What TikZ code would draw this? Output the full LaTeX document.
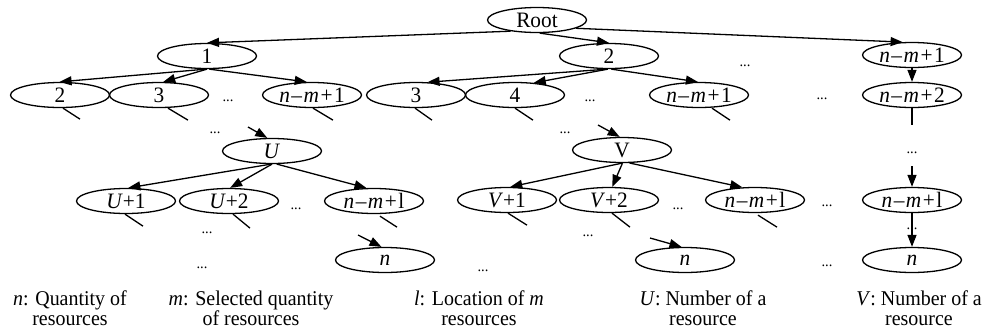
\documentclass[tikz,border=0pt]{standalone}
\usepackage{fontspec}
\setmainfont[FakeStretch=0.97]{Liberation Serif}
\newfontfamily\legendfont[FakeStretch=0.95]{Liberation Serif}
\usetikzlibrary{shapes.geometric,arrows.meta}
\newcommand{\nm}[1]{\textit{n}\kern1.5pt–\kern1.5pt\textit{m}\kern1.5pt+\kern1.5pt#1}
\begin{document}
\begin{tikzpicture}[x=1pt,y=-1pt,
  every node/.style={font=\fontsize{22}{20}\selectfont},
  oval/.style={draw, ellipse, line width=1.3pt, minimum width=99pt,
               minimum height=25pt, inner sep=0pt},
  arr/.style={line width=1.3pt, -{Triangle[length=12pt,width=9pt]}},
  tail/.style={line width=1.3pt},
  gap/.style={inner sep=0pt, anchor=base, font=\fontsize{15}{15}\selectfont},
  legend/.style={align=center, inner sep=0pt,
                 font=\legendfont\fontsize{21}{20}\selectfont}]
\useasboundingbox (0,0) rectangle (983,333);

% tree levels
\node[oval] (root) at (537,20) {Root};
\node[oval] (n1) at (207,56) {1};
\node[oval] (n2) at (609,56) {2};
\node[oval] (r1) at (912,55) {\nm{1}};

\node[oval] (a2) at (60,95) {2};
\node[oval] (a3) at (159,95) {3};
\node[oval] (a4) at (312,95) {\nm{1}};
\node[oval] (b3) at (416,95) {3};
\node[oval] (b4) at (515,95) {4};
\node[oval] (b5) at (699,95) {\nm{1}};
\node[oval] (r2) at (912,95) {\nm{2}};

\node[oval] (U) at (272,151) {\textit{U}};
\node[oval] (V) at (622,150) {V};

\node[oval] (u1) at (126,201) {\textit{U}+1};
\node[oval] (u2) at (229,201) {\textit{U}+2};
\node[oval] (u5) at (374,201) {\nm{l}};
\node[oval] (v1) at (507,200) {\textit{V}+1};
\node[oval] (v2) at (609,200) {\textit{V}+2};
\node[oval] (v5) at (755,200) {\nm{l}};
\node[oval] (r3) at (912,200) {\nm{l}};

\node[oval] (nu) at (385,260) {\textit{n}};
\node[oval] (nv) at (685,260) {\textit{n}};
\node[oval] (rn) at (912,260) {\textit{n}};

% ellipsis marks
\node[gap] (g1) at (228,101) {...};
\node[gap] (g2) at (590,101) {...};
\node[gap] (g3) at (745,66) {...};
\node[gap] (g4) at (822,99) {...};
\node[gap] (g5) at (215,133) {...};
\node[gap] (g6) at (565,133) {...};
\node[gap] (g7) at (296,209) {...};
\node[gap] (g8) at (678,209) {...};
\node[gap] (g9) at (827,206) {...};
\node[gap] (g10) at (207,233) {...};
\node[gap] (g11) at (588,236) {...};
\node[gap] (g12) at (202,268) {...};
\node[gap] (g13) at (483,271) {...};
\node[gap] (g14) at (827,266) {...};
\node[gap] (g15) at (912,153) {...};
\node[gap] (g16) at (912,229) {...};

% root edges
\draw[arr] (root.-157) -- (n1.north);
\draw[arr] (root.-78) -- (n2.north);
\draw[arr] (root.-12) -- (r1.126);

% second level edges
\draw[arr] (n1.-95) -- (a2.92);
\draw[arr] (n1.-90) -- (a3.72);
\draw[arr] (n1.-80) -- (a4.112);
\draw[arr] (n2.-97) -- (b3.48);
\draw[arr] (n2.-95) -- (b4.33);
\draw[arr] (n2.-80) -- (b5.95);
\draw[arr] (r1) -- (r2);

% open branches below second level
\draw[tail] ([xshift=3pt]a2.south) -- ++(17,11);
\draw[tail] ([xshift=9pt]a3.south) -- ++(20,12);
\draw[tail] ([xshift=1pt]a4.south) -- ++(20,12);
\draw[tail] ([xshift=-1pt]b3.south) -- ++(17,12);
\draw[tail] (b4.south) -- ++(18,12);
\draw[tail] ([xshift=13pt]b5.south) -- ++(18,12);
\coordinate (rt) at (912,125);
\draw[tail] (r2.south) -- (rt);

% entries into U and V
\coordinate (uin) at (248,127);
\coordinate (vin) at (598,125);
\draw[arr] (uin) -- (U.110);
\draw[arr] (vin) -- (V.100);

% edges below U and V
\draw[arr] (U.-95) -- (u1.80);
\draw[arr] (U.-90) -- (u2.85);
\draw[arr] (U.-70) -- (u5.120);
\draw[arr] (V.-90) -- (v1.76);
\draw[arr] (V.-88) -- (v2.76);
\draw[arr] (V.-60) -- (v5.135);
\coordinate (rin) at (912,166);
\draw[arr] (rin) -- (r3.north);

% open branches below third level
\draw[tail] ([xshift=-1pt]u1.south) -- ++(18,12);
\draw[tail] ([xshift=4pt]u2.south) -- ++(17,14);
\draw[tail] ([xshift=6pt,yshift=-2pt]u5.south) -- ++(17,11);
\draw[tail] ([xshift=1pt]v1.south) -- ++(19,12);
\draw[tail] ([xshift=3pt]v2.south) -- ++(18,14);
\draw[tail] ([xshift=3pt,yshift=-2pt]v5.south) -- ++(19,12);

% entries into the leaves
\coordinate (nuin) at (358,235);
\coordinate (nvin) at (650,238);
\draw[arr] (nuin) -- (nu.105);
\draw[arr] (nvin) -- (nv.105);
\draw[arr] (r3.south) -- (rn.north);

% legend
\node[legend] (l1) at (70,308) {\textit{n}: Quantity of\\resources};
\node[legend] (l2) at (251,308) {\textit{m}: Selected quantity\\of resources};
\node[legend] (l3) at (479,308) {\textit{l}: Location of \textit{m}\\resources};
\node[legend] (l4) at (703,308) {\textit{U}: Number of a\\resource};
\node[legend] (l5) at (919,308) {\textit{V}: Number of a\\resource};
\end{tikzpicture}
\end{document}
